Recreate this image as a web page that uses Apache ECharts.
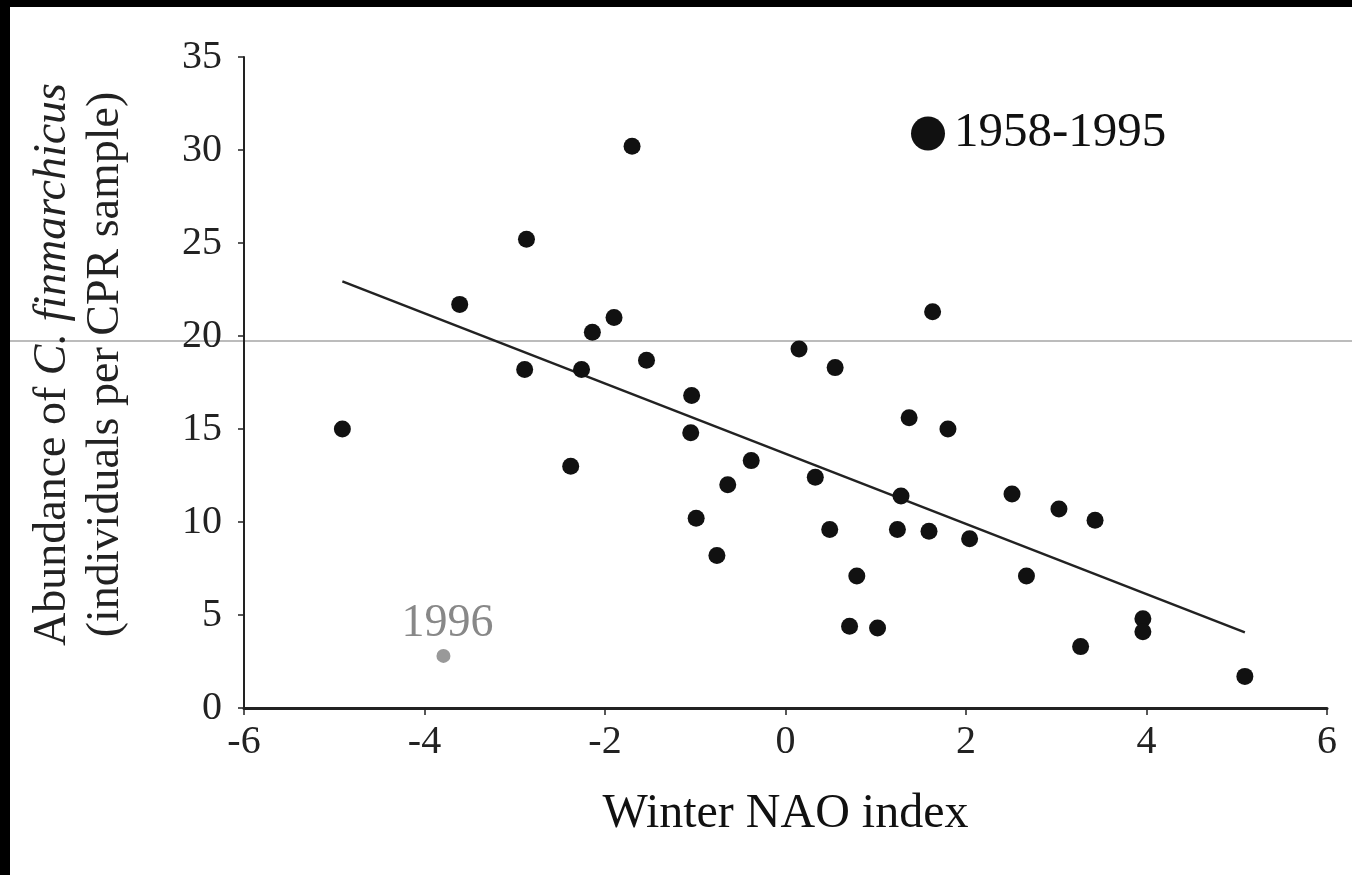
<!DOCTYPE html>
<html>
<head>
<meta charset="utf-8">
<script src="https://cdn.jsdelivr.net/npm/echarts@6/dist/echarts.min.js"></script>
<style>
    html, body { margin: 0; padding: 0; background: #000; }
    #chart { position: absolute; left: 10px; top: 7px; width: 1342px; height: 868px; background: #fff; }
</style>
</head>
<body>
<div id="chart"></div>
<script>
// 1958-1995: winter NAO index vs C. finmarchicus abundance
const naoIndex = [-4.91, -3.61, -2.87, -2.89, -2.38, -2.26, -2.14, -1.90, -1.70, -1.54,
    -1.04, -1.05, -0.99, -0.76, -0.64, -0.38, 0.15, 0.33, 0.49, 0.55,
    0.71, 0.79, 1.02, 1.24, 1.28, 1.37, 1.59, 1.63, 1.80, 2.04,
    2.51, 2.67, 3.03, 3.27, 3.43, 3.96, 3.96, 5.09];
const abundance = [15.0, 21.7, 25.2, 18.2, 13.0, 18.2, 20.2, 21.0, 30.2, 18.7,
    16.8, 14.8, 10.2, 8.2, 12.0, 13.3, 19.3, 12.4, 9.6, 18.3,
    4.4, 7.1, 4.3, 9.6, 11.4, 15.6, 9.5, 21.3, 15.0, 9.1,
    11.5, 7.1, 10.7, 3.3, 10.1, 4.8, 4.1, 1.7];

// 1996 outlier
const outlierYear = ['1996'];
const outlierNao = [-3.79];
const outlierAbundance = [2.8];

// regression line end points
const fitNao = [-4.91, 5.09];
const fitAbundance = [22.94, 4.07];

const xTicks = { min: -6, max: 6, interval: 2 };
const yTicks = { min: 0, max: 35, interval: 5 };

const FONT = '"Liberation Serif", "DejaVu Serif", serif';

const chartDom = document.getElementById('chart');
const myChart = echarts.init(chartDom);

myChart.setOption({
    animation: false,
    backgroundColor: '#fff',
    textStyle: { fontFamily: FONT },
    grid: {
        left: 234,
        right: 25,
        top: 50,
        bottom: 167
    },
    legend: {
        data: ['1958-1995'],
        left: 896,
        top: 97,
        icon: 'circle',
        itemWidth: 34,
        itemHeight: 34,
        textStyle: {
            fontFamily: FONT,
            fontSize: 49,
            color: '#111',
            padding: [0, 0, 0, 4]
        }
    },
    xAxis: {
        type: 'value',
        min: xTicks.min,
        max: xTicks.max,
        interval: xTicks.interval,
        name: 'Winter NAO index',
        nameLocation: 'middle',
        nameGap: 82,
        nameTextStyle: { fontFamily: FONT, fontSize: 48, color: '#111' },
        splitLine: { show: false },
        axisLine: { onZero: false, lineStyle: { color: '#222', width: 3 } },
        axisTick: { length: 7, lineStyle: { color: '#222', width: 1.5 } },
        axisLabel: { fontFamily: FONT, fontSize: 40, color: '#222', margin: 14 }
    },
    yAxis: {
        type: 'value',
        min: yTicks.min,
        max: yTicks.max,
        interval: yTicks.interval,
        name: '{n|Abundance of }{i|C. finmarchicus}\n{n|(individuals per CPR sample)}',
        nameLocation: 'middle',
        nameGap: 112,
        nameRotate: 90,
        nameTextStyle: {
            fontFamily: FONT,
            fontSize: 46,
            color: '#222',
            lineHeight: 53,
            padding: [0, 0, 0, 36],
            rich: {
                n: { fontFamily: FONT, fontSize: 46, color: '#222', lineHeight: 53 },
                i: { fontFamily: FONT, fontSize: 46, color: '#222', fontStyle: 'italic', lineHeight: 53 }
            }
        },
        splitLine: { show: false },
        axisLine: { onZero: false, lineStyle: { color: '#222', width: 2 } },
        axisTick: { length: 6, lineStyle: { color: '#222', width: 1.5 } },
        axisLabel: { fontFamily: FONT, fontSize: 40, color: '#222', margin: 22 }
    },
    // scan artefact: thin gray line across the page
    graphic: [{
        type: 'line',
        silent: true,
        shape: { x1: 0, y1: 334, x2: 1342, y2: 334 },
        style: { stroke: '#7a7a7a', lineWidth: 1.2 }
    }],
    series: [{
        name: 'fit',
        type: 'line',
        data: fitNao.map((x, i) => [x, fitAbundance[i]]),
        symbol: 'none',
        silent: true,
        lineStyle: { color: '#222', width: 2.5 },
        z: 1
    }, {
        name: '1958-1995',
        type: 'scatter',
        data: naoIndex.map((x, i) => [x, abundance[i]]),
        symbolSize: 17,
        itemStyle: { color: '#111', opacity: 1 },
        z: 3
    }, {
        name: '1996',
        type: 'scatter',
        data: outlierNao.map((x, i) => ({ name: outlierYear[i], value: [x, outlierAbundance[i]] })),
        symbolSize: 14,
        itemStyle: { color: '#999', opacity: 1 },
        label: {
            show: true,
            position: 'top',
            distance: 2,
            offset: [4, 0],
            formatter: (param) => param.name,
            fontFamily: FONT,
            fontSize: 46,
            color: '#888'
        },
        z: 3
    }]
});

window.onresize = function () {
    myChart.resize();
};
</script>
</body>
</html>
